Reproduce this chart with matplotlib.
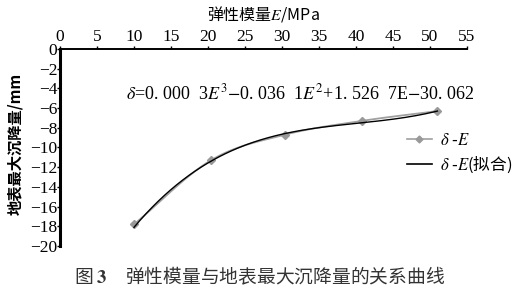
import numpy as np
import matplotlib
matplotlib.use("Agg")
import matplotlib.pyplot as plt

plt.rcParams['font.family'] = ['Liberation Serif', 'Noto Sans CJK SC']
plt.rcParams['mathtext.fontset'] = 'stix'

# data
E_vals = [10, 20.4, 30.4, 40.8, 51.0]
delta_vals = [-17.8, -11.3, -8.7, -7.3, -6.3]
# fit coefficients (cubic), from the equation in the chart
fit_coef = [0.0003, -0.0361, 1.5267, -30.062]
x_ticks = [0, 5, 10, 15, 20, 25, 30, 35, 40, 45, 50, 55]
y_ticks = [0, -2, -4, -6, -8, -10, -12, -14, -16, -18, -20]

cjk = ['Noto Sans CJK SC', 'Liberation Serif']


def smooth_line(xs, ys, n=30):
    # catmull-rom, like a spreadsheet "smoothed line"
    p = np.column_stack([xs, ys]).astype(float)
    p = np.vstack([2 * p[0] - p[1], p, 2 * p[-1] - p[-2]])
    out = []
    t = np.linspace(0, 1, n)[:, None]
    for i in range(1, len(p) - 2):
        p0, p1, p2, p3 = p[i - 1], p[i], p[i + 1], p[i + 2]
        seg = 0.5 * (2 * p1 + (-p0 + p2) * t
                     + (2 * p0 - 5 * p1 + 4 * p2 - p3) * t ** 2
                     + (-p0 + 3 * p1 - 3 * p2 + p3) * t ** 3)
        out.append(seg)
    out = np.vstack(out)
    return out[:, 0], out[:, 1]


fig = plt.figure(figsize=(5.19, 2.98), dpi=100)
ax = fig.add_axes([0.1156, 0.1745, 0.7842, 0.6611])

sx, sy = smooth_line(E_vals, delta_vals)
ax.plot(sx, sy, color='#a0a0a0', lw=1.3, zorder=2)
ax.plot(E_vals, delta_vals, ls='none', marker='D', ms=4,
        mec='#999999', mfc='#999999', zorder=2)
xf = np.linspace(E_vals[0], E_vals[-1], 200)
ax.plot(xf, np.polyval(fit_coef, xf), color='black', lw=1.0, zorder=3)

# legend handles
ax.plot([], [], color='#a0a0a0', lw=1.2, marker='D', ms=3.5,
        mec='#999999', mfc='#999999', label=r'$\delta$ -$E$')
ax.plot([], [], color='black', lw=1.2, label=r'$\delta$ -$E$(拟合)')

ax.set_xlim(0, 55)
ax.set_ylim(-20, 0)
ax.set_xticks(x_ticks)
ax.set_yticks(y_ticks)
ax.xaxis.tick_top()
ax.xaxis.set_label_position('top')
ax.spines['right'].set_visible(False)
ax.spines['bottom'].set_visible(False)
ax.spines['left'].set_linewidth(2.2)
ax.spines['top'].set_linewidth(1.4)
ax.tick_params(axis='both', labelsize=12.5, length=2, width=1, pad=1)
ax.tick_params(axis='y', pad=0)

ax.set_xlabel('弹性模量$E$/MPa', fontsize=11.5, family=cjk, labelpad=7)
ax.set_ylabel('地表最大沉降量/mm', fontsize=11, family=cjk,
              fontweight='bold', labelpad=6)
ax.yaxis.set_label_coords(-0.09, 0.52)

ax.text(8.9, -4.5,
        r'$\delta$=0. 000  3$E^3$$-$0. 036  1$E^2$+1. 526  7E$-$30. 062',
        fontsize=13, va='center', ha='left')

leg = fig.legend(handles=ax.get_lines()[-2:], loc='center left',
                 bbox_to_anchor=(0.755, 0.485), frameon=False,
                 handlelength=1.5, handletextpad=0.5, labelspacing=0.3,
                 prop={'family': cjk, 'size': 12})

fig.text(0.5, 0.07, '图 $\\mathbf{3}$　弹性模量与地表最大沉降量的关系曲线',
         ha='center', va='center', fontsize=13.5, family=cjk, color='#333333')

fig.savefig('out.png', dpi=100)
